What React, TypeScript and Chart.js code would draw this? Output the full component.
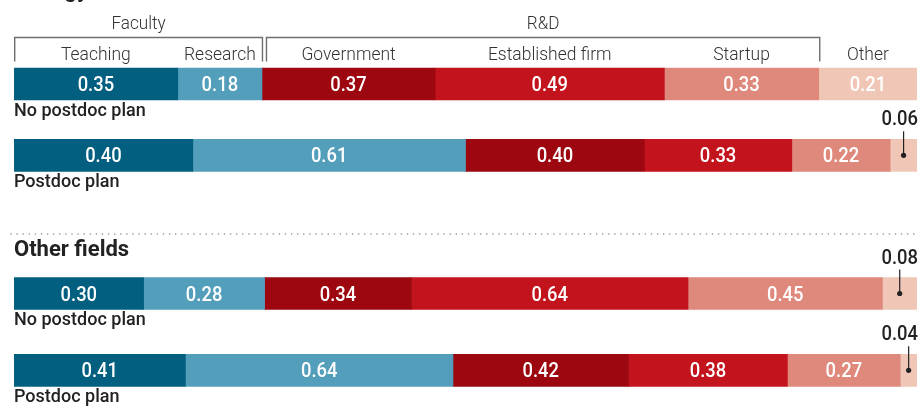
import { useEffect, useRef } from "react";
import { Chart, registerables } from "chart.js";

Chart.register(...registerables);

const categories = ["Teaching", "Research", "Government", "Established firm", "Startup", "Other"];
const groupLabels = ["Faculty", "R&D"];
const groupSpans = [[0, 1], [2, 4]];
const rowLabels = ["No postdoc plan", "Postdoc plan"];
const sectionTitles = ["Biology", "Other fields"];

const biologyNoPostdoc = [0.35, 0.18, 0.37, 0.49, 0.33, 0.21];
const biologyPostdoc = [0.40, 0.61, 0.40, 0.33, 0.22, 0.06];
const otherNoPostdoc = [0.30, 0.28, 0.34, 0.64, 0.45, 0.08];
const otherPostdoc = [0.41, 0.64, 0.42, 0.38, 0.27, 0.04];

const segmentColors = ["#025f80", "#539ebb", "#9d0710", "#c3131c", "#df887c", "#f0c7b7"];

const FONT = "Roboto, 'Noto Sans', sans-serif";

function normalized(rows: number[][]) {
  return categories.map((_, ci) =>
    rows.map((r) => r[ci] / r.reduce((a, b) => a + b, 0))
  );
}

function condensedText(ctx: CanvasRenderingContext2D, txt: string, x: number, y: number, align: "left" | "center", sx = 0.9) {
  ctx.save();
  ctx.translate(x, y);
  ctx.scale(sx, 1);
  ctx.textAlign = align;
  ctx.fillText(txt, 0, 0);
  ctx.restore();
}

function makeChart(
  canvas: HTMLCanvasElement,
  rows: number[][],
  padTop: number,
  padBottom: number,
  header: (chart: any) => void
) {
  const data = normalized(rows);
  const segPlugin = {
    id: "segLabels",
    afterDatasetsDraw(chart: any) {
      const ctx: CanvasRenderingContext2D = chart.ctx;
      ctx.save();
      chart.data.datasets.forEach((_: any, di: number) => {
        const meta = chart.getDatasetMeta(di);
        meta.data.forEach((el: any, ri: number) => {
          const p = el.getProps(["x", "y", "base", "height"], true);
          const left = Math.min(p.x, p.base);
          const right = Math.max(p.x, p.base);
          const cx = (left + right) / 2;
          const txt = rows[ri][di].toFixed(2);
          ctx.font = `500 20px ${FONT}`;
          ctx.textBaseline = "alphabetic";
          if (right - left > 44) {
            ctx.fillStyle = "#ffffff";
            condensedText(ctx, txt, cx, p.y + 7, "center", 0.92);
          } else {
            const top = p.y - p.height / 2;
            ctx.strokeStyle = "#222222";
            ctx.fillStyle = "#222222";
            ctx.lineWidth = 1.2;
            ctx.beginPath();
            ctx.moveTo(cx, top - 8);
            ctx.lineTo(cx, p.y);
            ctx.stroke();
            ctx.beginPath();
            ctx.arc(cx, p.y, 2.6, 0, Math.PI * 2);
            ctx.fill();
            const w = ctx.measureText(txt).width * 0.92;
            const tx = Math.min(cx, chart.width - 3 - w / 2);
            condensedText(ctx, txt, tx, top - 14, "center", 0.92);
          }
        });
      });
      const meta0 = chart.getDatasetMeta(0);
      meta0.data.forEach((el: any, ri: number) => {
        const p = el.getProps(["y", "height"], true);
        ctx.font = `500 18px ${FONT}`;
        ctx.fillStyle = "#222222";
        ctx.textBaseline = "alphabetic";
        condensedText(ctx, rowLabels[ri], chart.chartArea.left, p.y + p.height / 2 + 15.5, "left", 1.0);
      });
      ctx.restore();
    },
    afterDraw(chart: any) {
      header(chart);
    },
  };

  return new Chart(canvas, {
    type: "bar",
    data: {
      labels: rowLabels,
      datasets: categories.map((c, i) => ({
        label: c,
        data: data[i],
        backgroundColor: segmentColors[i],
        borderWidth: 0,
        barThickness: 32,
      })),
    },
    options: {
      indexAxis: "y",
      responsive: false,
      animation: false,
      layout: { padding: { left: 14, right: 4, top: padTop, bottom: padBottom } },
      scales: {
        x: { stacked: true, min: 0, max: 1, display: false },
        y: { stacked: true, display: false },
      },
      plugins: { legend: { display: false }, tooltip: { enabled: false } },
    },
    plugins: [segPlugin],
  } as any);
}

function drawTopHeader(chart: any) {
  const ctx: CanvasRenderingContext2D = chart.ctx;
  ctx.save();
  ctx.fillStyle = "#222222";
  ctx.font = `700 22px ${FONT}`;
  ctx.textBaseline = "alphabetic";
  condensedText(ctx, sectionTitles[0], 14, -3, "left", 1.0);

  const bars = categories.map((_, di) => {
    const p = chart.getDatasetMeta(di).data[0].getProps(["x", "base"], true);
    return { left: Math.min(p.x, p.base), right: Math.max(p.x, p.base) };
  });

  ctx.strokeStyle = "#6f6f6f";
  ctx.lineWidth = 1.4;
  groupSpans.forEach(([a, b], gi) => {
    const l = gi === 0 ? bars[a].left + 0.7 : bars[a].left + 4.5;
    const r = gi === 0 ? bars[b].right + 0.5 : bars[b].right + 1;
    ctx.beginPath();
    ctx.moveTo(l, 61.5);
    ctx.lineTo(l, 37.5);
    ctx.lineTo(r, 37.5);
    ctx.lineTo(r, 61.5);
    ctx.stroke();
    ctx.fillStyle = "#333333";
    ctx.font = `300 19px ${FONT}`;
    condensedText(ctx, groupLabels[gi], (l + r) / 2, 29, "center", 0.9);
  });

  ctx.fillStyle = "#333333";
  ctx.font = `300 19px ${FONT}`;
  categories.forEach((c, i) => {
    condensedText(ctx, c, (bars[i].left + bars[i].right) / 2, 60, "center", 0.92);
  });
  ctx.restore();
}

function drawBottomHeader(chart: any) {
  const ctx: CanvasRenderingContext2D = chart.ctx;
  ctx.save();
  ctx.fillStyle = "#8a8a8a";
  for (let x = 11; x <= 917; x += 6.1) {
    ctx.beginPath();
    ctx.arc(x, 14, 0.8, 0, Math.PI * 2);
    ctx.fill();
  }
  ctx.fillStyle = "#222222";
  ctx.font = `700 22px ${FONT}`;
  ctx.textBaseline = "alphabetic";
  condensedText(ctx, sectionTitles[1], 14, 36, "left", 1.0);
  ctx.restore();
}

export default function App() {
  const topRef = useRef<HTMLCanvasElement>(null);
  const botRef = useRef<HTMLCanvasElement>(null);

  useEffect(() => {
    const a = makeChart(topRef.current!, [biologyNoPostdoc, biologyPostdoc], 48.35, 29.05, drawTopHeader);
    const b = makeChart(botRef.current!, [otherNoPostdoc, otherPostdoc], 35.1, 1.3, drawBottomHeader);
    return () => {
      a.destroy();
      b.destroy();
    };
  }, []);

  return (
    <div style={{ position: "absolute", left: 0, top: 0, width: 921, height: 410, background: "#fff" }}>
      <canvas ref={topRef} width={921} height={220} style={{ position: "absolute", left: 0, top: 0, display: "block" }} />
      <canvas ref={botRef} width={921} height={190} style={{ position: "absolute", left: 0, top: 220, display: "block" }} />
    </div>
  );
}
